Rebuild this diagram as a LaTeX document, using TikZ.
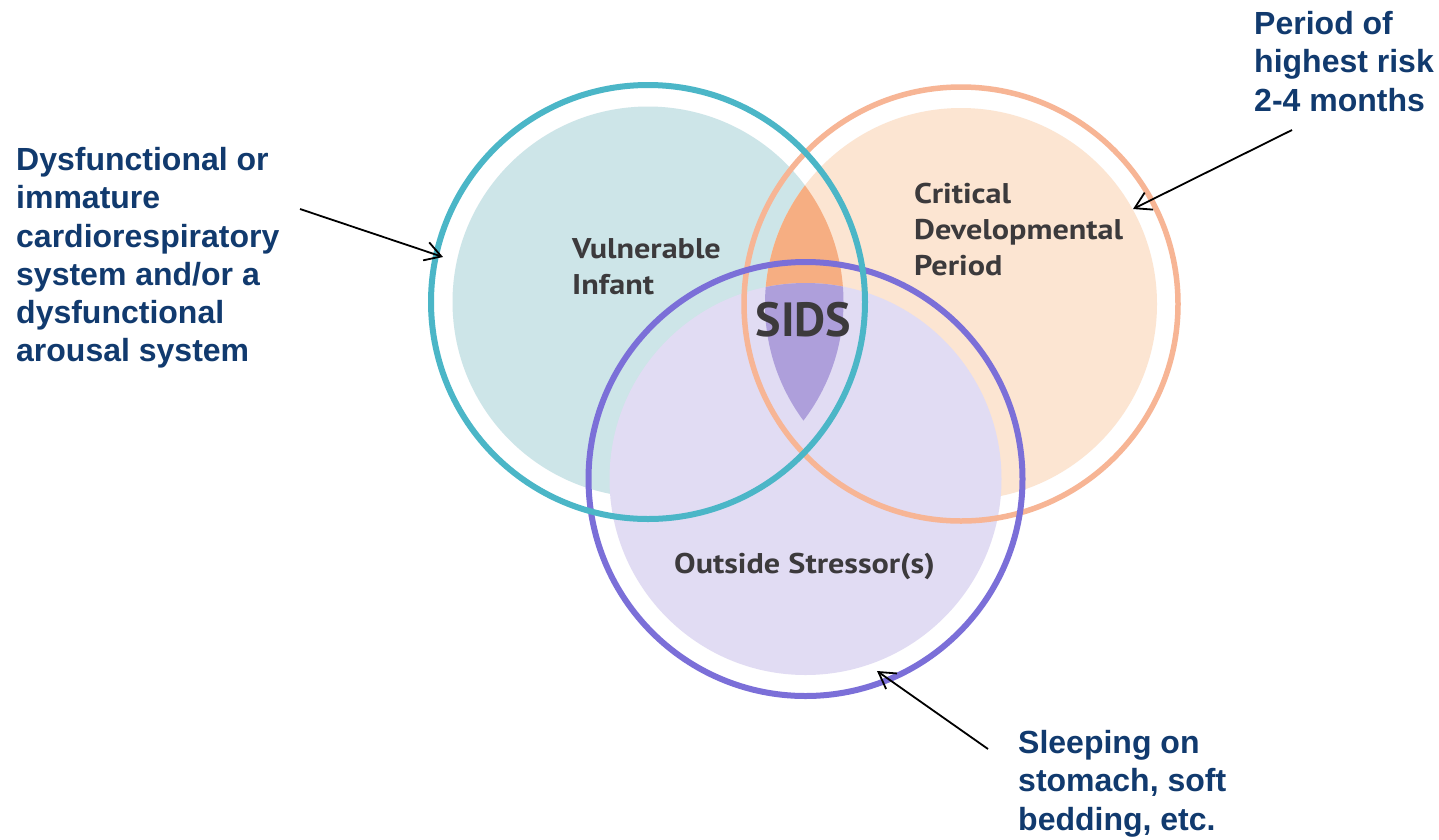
\documentclass[tikz,border=0pt]{standalone}
\usepackage{fontspec}
\setmainfont{Liberation Sans}
\newfontfamily\myr{PT Sans}[FakeStretch=1.13]
\newfontfamily\myrs{PT Sans}
\usetikzlibrary{arrows.meta}
\definecolor{navy}{RGB}{17,58,110}
\definecolor{txtgray}{HTML}{3C3A3C}
\definecolor{ringB}{HTML}{4BB6C7}
\definecolor{ringO}{HTML}{F7B595}
\definecolor{ringP}{HTML}{7B6FD8}
\definecolor{fillB}{HTML}{CDE5E8}
\definecolor{fillO}{HTML}{FCE5D2}
\definecolor{fillP}{HTML}{E1DCF3}
\definecolor{lensO}{HTML}{F6AE82}
\definecolor{lensP}{HTML}{AE9FDB}
\begin{document}
\begin{tikzpicture}[x=1pt,y=-1pt,
  outlabel/.style={font=\bfseries\fontsize{32}{38.2}\selectfont, text=navy, align=left, anchor=base west, inner sep=0pt},
  inlabel/.style={font=\myr\bfseries\fontsize{28.5}{35.5}\selectfont, text=txtgray, align=left, anchor=base west, inner sep=0pt},
  pointer/.style={draw=black, line width=1.8pt, -{Straight Barb[length=16pt,width=19pt]}}]
\path[use as bounding box, fill=white] (0,0) rectangle (1439,839);
\coordinate (cB) at (648,302);
\coordinate (cO) at (961,304);
\coordinate (cP) at (805.5,479);
% fills
\fill[fillB] (cB) circle[radius=195.5pt];
\fill[fillO] (cO) circle[radius=196pt];
\begin{scope}
  \clip (cB) circle[radius=195.5pt];
  \fill[lensO] (cO) circle[radius=196pt];
\end{scope}
\fill[fillP] (cP) circle[radius=196pt];
\begin{scope}
  \clip (cB) circle[radius=195.5pt];
  \clip (cO) circle[radius=196pt];
  \fill[lensP] (cP) circle[radius=196pt];
\end{scope}
% rings
\draw[ringO, line width=5.5pt] (cO) circle[radius=217pt];
\draw[ringP, line width=6pt] (cP) circle[radius=217pt];
\draw[ringB, line width=6pt] (cB) circle[radius=217pt];
% inner labels (base = last line)
\node[inlabel] (vul) at (572,294) {Vulnerable\\Infant};
\node[inlabel, font=\myr\bfseries\fontsize{28.5}{36}\selectfont] (crit) at (914,275) {Critical\\Developmental\\Period};
\node[inlabel, anchor=base, font=\myrs\bfseries\fontsize{48}{50}\selectfont] (sids) at (803.5,336.7) {SIDS};
\node[inlabel] (outs) at (674,573.3) {Outside Stressor(s)};
% outer labels (base = last line)
\node[outlabel] (left) at (16,361.7) {Dysfunctional or\\immature\\cardiorespiratory\\system and/or a\\dysfunctional\\arousal system};
\node[outlabel] (risk) at (1254,111) {Period of\\highest risk\\2-4 months};
\node[outlabel] (sleep) at (1018,830) {Sleeping on\\stomach, soft\\bedding, etc.};
% arrows
\coordinate (s1) at (300,209);
\coordinate (t1) at (443,257);
\coordinate (s2) at (1292,130);
\coordinate (t2) at (1133,209);
\coordinate (s3) at (988,749);
\coordinate (t3) at (877,671);
\draw[pointer] (s1) -- (t1);
\draw[pointer] (s2) -- (t2);
\draw[pointer] (s3) -- (t3);
\end{tikzpicture}
\end{document}
